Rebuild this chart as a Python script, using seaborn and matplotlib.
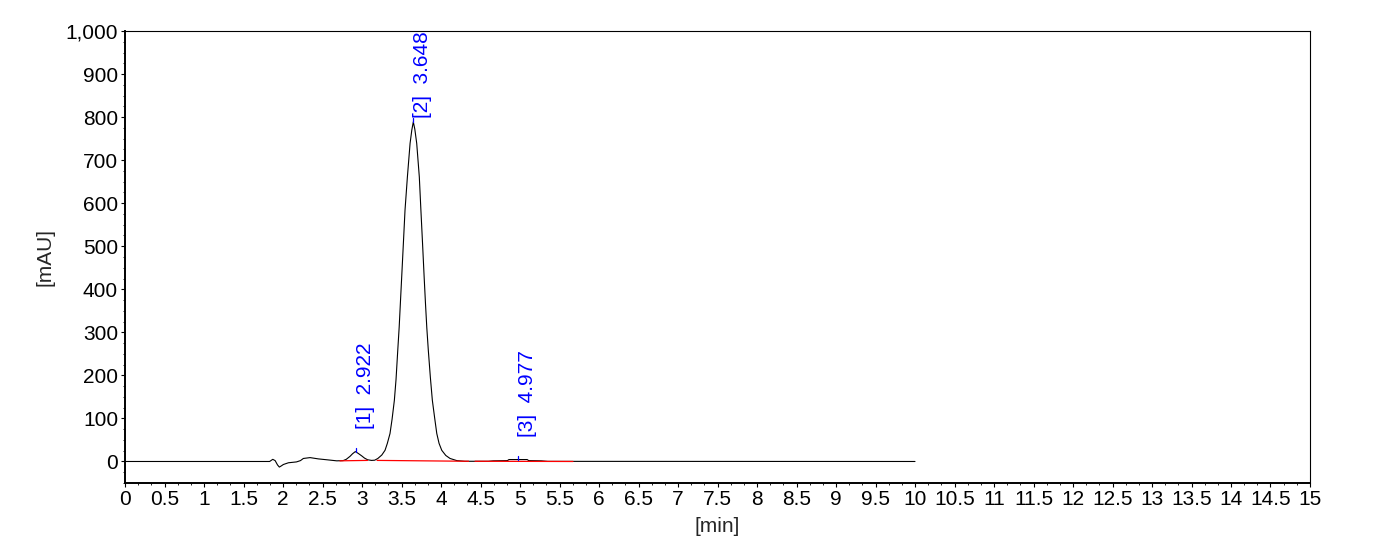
import matplotlib
matplotlib.use("Agg")
import matplotlib.pyplot as plt
import matplotlib.ticker as mticker
import seaborn as sns
import pandas as pd

# ---------------------------------------------------
# Chromatogram data
# ---------------------------------------------------
time_min = [0.0, 1.83, 1.87, 1.90, 1.93, 1.953, 1.98, 2.004, 2.068, 2.17, 2.22,
            2.257, 2.342, 2.447, 2.553, 2.68, 2.76, 2.80, 2.848, 2.88, 2.915,
            2.95, 2.996, 3.03, 3.07, 3.12, 3.16, 3.20, 3.25, 3.291, 3.32, 3.354,
            3.38, 3.409, 3.43, 3.452, 3.47, 3.485, 3.502, 3.523, 3.544, 3.574,
            3.608, 3.63, 3.649, 3.668, 3.692, 3.725, 3.745, 3.766, 3.786, 3.803,
            3.82, 3.839, 3.865, 3.89, 3.92, 3.946, 3.975, 4.009, 4.06, 4.114,
            4.20, 4.30, 4.60, 4.66, 4.84, 4.86, 5.09, 5.11, 5.27, 5.35, 10.0]
signal_mau = [0, 0, 5, 2, -8, -13, -10, -7, -3, -1, 2,
              7, 9, 6, 4, 1.5, 2, 5, 12, 18, 23,
              19, 13, 8, 4, 2.5, 3, 7, 15, 26, 42, 65,
              98, 142, 190, 258, 312, 367, 429, 506, 584, 661,
              739, 770, 789, 772, 739, 661, 584, 506, 429, 367,
              310, 258, 195, 142, 100, 65, 42, 26, 14, 7,
              2, 0.5, 0.5, 1.5, 2, 4.5, 4.5, 2, 1.5, 0.3, 0]

# integrated peaks
peak_num = [1, 2, 3]
peak_rt = [2.922, 3.648, 4.977]
peak_height = [23, 789, 4.5]

# baseline segments under the peaks
base_t0 = [2.72, 3.19, 4.43]
base_t1 = [3.07, 4.35, 5.67]
base_y0 = [1.5, 2.5, 0.5]
base_y1 = [2.5, 0.5, 0.0]

x_ticks = [i * 0.5 for i in range(31)]
y_ticks = list(range(0, 1001, 100))

# -----------------------------
# Style
# -----------------------------
sns.set_style("white")
plt.rcParams["font.family"] = ["Liberation Sans", "DejaVu Sans"]
plt.rcParams["font.size"] = 15

fig = plt.figure(figsize=(13.88, 5.51), dpi=100)
ax = fig.add_axes([0.0901, 0.1234, 0.8537, 0.8203])

df = pd.DataFrame({"t": time_min, "y": signal_mau})
sns.lineplot(data=df, x="t", y="y", sort=False, color="black", linewidth=0.8, ax=ax)

for t0, t1, y0, y1 in zip(base_t0, base_t1, base_y0, base_y1):
    ax.plot([t0, t1], [y0, y1], color="red", linewidth=0.9)

for n, rt, h in zip(peak_num, peak_rt, peak_height):
    ax.plot([rt, rt], [h, h + 8], color="blue", linewidth=0.9)
    ax.text(rt, min(h + 52, 797), f"[{n}]  {rt:.3f}", rotation=90,
            ha="left", va="bottom", color="blue", fontsize=15)

ax.set_xlim(0, 15)
ax.set_ylim(-50, 1000)
ax.set_xticks(x_ticks)
ax.set_yticks(y_ticks)
ax.xaxis.set_major_formatter(mticker.FuncFormatter(lambda v, p: f"{v:g}"))
ax.yaxis.set_major_formatter(mticker.FuncFormatter(lambda v, p: f"{v:,.0f}"))
ax.xaxis.set_minor_locator(mticker.MultipleLocator(1 / 6))
ax.yaxis.set_minor_locator(mticker.MultipleLocator(25))

ax.tick_params(which="major", direction="out", length=3, width=0.8, pad=2,
               color="black", labelcolor="black", bottom=True, left=True)
ax.tick_params(which="minor", direction="out", length=1.5, width=0.6,
               color="black", bottom=True, left=True)

for side in ["top", "right"]:
    ax.spines[side].set_linewidth(0.8)
    ax.spines[side].set_color("black")
for side in ["left", "bottom"]:
    ax.spines[side].set_linewidth(1.4)
    ax.spines[side].set_color("black")

ax.set_xlabel("[min]", labelpad=6)
ax.set_ylabel("[mAU]", labelpad=8)

fig.savefig("out.png", dpi=100)
plt.close(fig)
